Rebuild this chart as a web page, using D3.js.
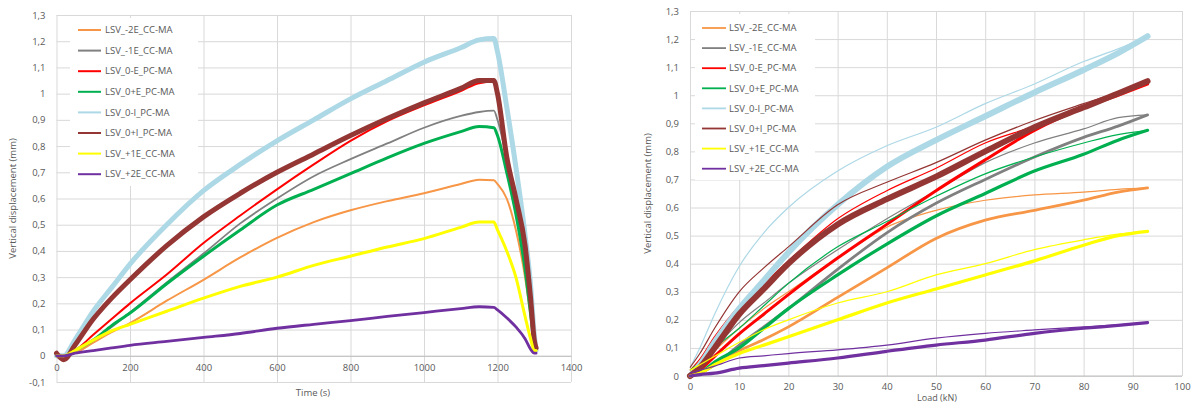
<!DOCTYPE html>
<html><head><meta charset="utf-8">
<script src="https://cdn.jsdelivr.net/npm/d3@7"></script>
<style>
body{margin:0;background:#fff}
svg text{font-family:"Open Sans",sans-serif;fill:#595959}
</style></head><body>
<svg id="c" width="1195" height="405"></svg>
<script>
// ---------- DATA ----------
const seriesNames = ["LSV_-2E_CC-MA","LSV_-1E_CC-MA","LSV_0-E_PC-MA","LSV_0+E_PC-MA","LSV_0-I_PC-MA","LSV_0+I_PC-MA","LSV_+1E_CC-MA","LSV_+2E_CC-MA"];
const seriesColors = ["#F79646","#808080","#FF0000","#00B050","#ADD8E6","#943634","#FFFF00","#7030A0"];

// Left chart: displacement vs time
const timeS = [0,20,50,100,150,200,300,400,500,600,700,800,900,1000,1100,1150,1190,1200,1225,1250,1275,1290,1300,1305];
const timeDisp_m2E = [0,0,0.01,0.05,0.09,0.125,0.21,0.29,0.375,0.45,0.51,0.555,0.59,0.62,0.655,0.672,0.67,0.655,0.60,0.48,0.30,0.15,0.04,0.02];
const timeDisp_m1E = [0,0,0.02,0.06,0.11,0.165,0.28,0.39,0.505,0.60,0.685,0.75,0.81,0.87,0.915,0.93,0.935,0.90,0.75,0.56,0.38,0.20,0.05,0.02];
const timeDisp_0mE = [0,0,0.02,0.08,0.14,0.20,0.31,0.43,0.535,0.635,0.73,0.82,0.895,0.955,1.01,1.04,1.045,0.99,0.74,0.58,0.40,0.20,0.05,0.02];
const timeDisp_0pE = [0,0,0.02,0.06,0.115,0.163,0.275,0.38,0.48,0.575,0.635,0.695,0.755,0.81,0.855,0.875,0.87,0.84,0.70,0.54,0.33,0.16,0.05,0.02];
const timeDisp_0mI = [0,0,0.06,0.17,0.26,0.35,0.50,0.63,0.73,0.82,0.90,0.98,1.05,1.12,1.175,1.205,1.21,1.16,0.95,0.72,0.46,0.27,0.08,0.02];
const timeDisp_0pI = [0.01,-0.015,0.04,0.14,0.22,0.29,0.42,0.53,0.62,0.70,0.77,0.84,0.905,0.965,1.02,1.05,1.05,1.0,0.76,0.60,0.42,0.22,0.06,0.03];
const timeDisp_p1E = [0,0,0.02,0.06,0.095,0.12,0.17,0.22,0.265,0.30,0.345,0.38,0.415,0.447,0.49,0.51,0.51,0.48,0.40,0.30,0.15,0.065,0.02,0.02];
const timeDisp_p2E = [0,0,0.01,0.02,0.03,0.04,0.055,0.07,0.085,0.105,0.12,0.134,0.15,0.165,0.18,0.187,0.185,0.175,0.145,0.11,0.065,0.025,0.01,0.01];

// Right chart: displacement vs load (loading = thick, unloading = thin)
const loadKN = [0,2,5,10,15,20,30,40,50,60,70,80,87,93];
const loadDisp_m2E = [0,0.01,0.04,0.09,0.13,0.175,0.28,0.385,0.49,0.555,0.59,0.626,0.655,0.67];
const loadDisp_m1E = [0,0.01,0.04,0.11,0.175,0.24,0.38,0.51,0.615,0.70,0.78,0.85,0.89,0.93];
const loadDisp_0mE = [0,0.02,0.07,0.15,0.22,0.29,0.42,0.54,0.66,0.77,0.875,0.955,1.0,1.04];
const loadDisp_0pE = [0,0.01,0.05,0.10,0.17,0.24,0.36,0.47,0.57,0.65,0.73,0.79,0.84,0.875];
const loadDisp_0mI = [0,0.04,0.12,0.24,0.34,0.44,0.61,0.745,0.84,0.925,1.01,1.09,1.15,1.21];
const loadDisp_0pI = [0,0.03,0.10,0.22,0.31,0.40,0.54,0.63,0.71,0.80,0.886,0.957,1.006,1.05];
const loadDisp_p1E = [0,0.01,0.04,0.08,0.11,0.14,0.20,0.26,0.31,0.36,0.41,0.466,0.50,0.515];
const loadDisp_p2E = [0,0.005,0.01,0.028,0.037,0.046,0.064,0.088,0.11,0.128,0.152,0.17,0.18,0.19];
const unloadDisp_m2E = [0.02,0.04,0.09,0.17,0.24,0.30,0.42,0.53,0.59,0.626,0.645,0.655,0.665,0.67];
const unloadDisp_m1E = [0.02,0.05,0.10,0.19,0.26,0.33,0.45,0.56,0.66,0.76,0.83,0.88,0.92,0.93];
const unloadDisp_0mE = [0.02,0.06,0.14,0.25,0.33,0.41,0.56,0.66,0.74,0.83,0.89,0.96,1.005,1.04];
const unloadDisp_0pE = [0.02,0.05,0.10,0.17,0.25,0.33,0.46,0.55,0.64,0.72,0.78,0.83,0.86,0.875];
const unloadDisp_0mI = [0.03,0.10,0.22,0.39,0.51,0.60,0.73,0.82,0.886,0.97,1.04,1.12,1.165,1.21];
const unloadDisp_0pI = [0.03,0.08,0.17,0.30,0.385,0.46,0.61,0.69,0.76,0.84,0.91,0.97,1.01,1.05];
const unloadDisp_p1E = [0.02,0.04,0.07,0.12,0.165,0.20,0.26,0.30,0.36,0.40,0.45,0.485,0.505,0.515];
const unloadDisp_p2E = [0.01,0.02,0.035,0.064,0.072,0.08,0.093,0.11,0.135,0.152,0.164,0.175,0.182,0.19];

const timeTicks = [0,200,400,600,800,1000,1200,1400];
const loadTicks = [0,10,20,30,40,50,60,70,80,90,100];
const dispTicksLeft = [-0.1,0,0.1,0.2,0.3,0.4,0.5,0.6,0.7,0.8,0.9,1,1.1,1.2,1.3];
const dispTicksRight = [0,0.1,0.2,0.3,0.4,0.5,0.6,0.7,0.8,0.9,1,1.1,1.2,1.3];

// ---------- DRAW ----------
const timeSeries = [timeDisp_m2E,timeDisp_m1E,timeDisp_0mE,timeDisp_0pE,timeDisp_0mI,timeDisp_0pI,timeDisp_p1E,timeDisp_p2E];
const loadSeries = [loadDisp_m2E,loadDisp_m1E,loadDisp_0mE,loadDisp_0pE,loadDisp_0mI,loadDisp_0pI,loadDisp_p1E,loadDisp_p2E];
const unloadSeries = [unloadDisp_m2E,unloadDisp_m1E,unloadDisp_0mE,unloadDisp_0pE,unloadDisp_0mI,unloadDisp_0pI,unloadDisp_p1E,unloadDisp_p2E];

const svg = d3.select("#c");
const fmt = d => Math.abs(d - Math.round(d)) < 1e-9 ? String(Math.round(d)) : d.toFixed(1).replace(".", ",");
const gridColor = "#d9d9d9";

function styleAxis(g){
  g.selectAll(".domain").remove();
  g.selectAll("line").attr("stroke", gridColor);
  g.selectAll("text").style("font-size","9.5px").attr("fill","#595959");
}

// ----- Left chart -----
const L = {x0:56.5, x1:571, y0:15, y1:382};
const xL = d3.scaleLinear().domain([0,1400]).range([L.x0,L.x1]);
const yL = d3.scaleLinear().domain([-0.1,1.3]).range([L.y1,L.y0]);

const gL = svg.append("g");
gL.append("g").attr("transform",`translate(${L.x0},0)`)
  .call(d3.axisLeft(yL).tickValues(dispTicksLeft).tickSize(-(L.x1-L.x0)).tickPadding(11).tickFormat(fmt))
  .call(styleAxis);
gL.append("g").attr("transform",`translate(0,${L.y1})`)
  .call(d3.axisBottom(xL).tickValues(timeTicks).tickSize(-(L.y1-L.y0)).tickFormat(""))
  .call(styleAxis);
gL.append("g").attr("transform",`translate(0,${yL(0)})`)
  .call(d3.axisBottom(xL).tickValues(timeTicks).tickSize(0).tickPadding(8).tickFormat(d=>d))
  .call(g=>{g.select(".domain").attr("stroke","#bfbfbf"); g.selectAll("text").style("font-size","9.5px").attr("fill","#595959");});

gL.append("rect").attr("x",70).attr("y",18).attr("width",128).attr("height",168).attr("fill","#fff");

const lineT = d3.line().x((d,i)=>xL(timeS[i])).y(d=>yL(d)).curve(d3.curveMonotoneX);
const wL = [2,1.8,2,3,5,5,3,2.8];
timeSeries.forEach((s,i)=>{
  gL.append("path").attr("d",lineT(s)).attr("fill","none").attr("stroke",seriesColors[i])
    .attr("stroke-width",wL[i]).attr("stroke-linejoin","round").attr("stroke-linecap","round");
});

seriesNames.forEach((n,i)=>{
  const y = 30 + i*20.6;
  gL.append("line").attr("x1",78).attr("x2",101).attr("y1",y).attr("y2",y).attr("stroke",seriesColors[i]).attr("stroke-width",2);
  gL.append("text").attr("x",105).attr("y",y).attr("dy","0.34em").style("font-size","9.5px").text(n);
});

gL.append("text").attr("x",313).attr("y",396).attr("text-anchor","middle").style("font-size","9.5px").text("Time (s)");
gL.append("text").attr("transform",`translate(16,${(L.y0+L.y1)/2}) rotate(-90)`).attr("text-anchor","middle").style("font-size","9.5px").text("Vertical displacement (mm)");

// ----- Right chart -----
const R = {x0:690, x1:1182, y0:11, y1:376};
const xR = d3.scaleLinear().domain([0,100]).range([R.x0,R.x1]);
const yR = d3.scaleLinear().domain([0,1.3]).range([R.y1,R.y0]);

const gR = svg.append("g");
gR.append("g").attr("transform",`translate(${R.x0},0)`)
  .call(d3.axisLeft(yR).tickValues(dispTicksRight).tickSize(-(R.x1-R.x0)).tickPadding(11).tickFormat(fmt))
  .call(styleAxis);
gR.append("g").attr("transform",`translate(0,${R.y1})`)
  .call(d3.axisBottom(xR).tickValues(loadTicks).tickSize(-(R.y1-R.y0)).tickPadding(7).tickFormat(d=>d))
  .call(styleAxis);
gR.append("line").attr("x1",R.x0).attr("x2",R.x1).attr("y1",R.y1).attr("y2",R.y1).attr("stroke","#bfbfbf");

gR.append("rect").attr("x",695).attr("y",14).attr("width",120).attr("height",166).attr("fill","#fff");

const lineL = d3.line().x((d,i)=>xR(loadKN[i])).y(d=>yR(d)).curve(d3.curveMonotoneX);
const wThick = [2.8,2.8,3,3.2,6,6,3.2,3.2];
loadSeries.forEach((s,i)=>{
  gR.append("path").attr("d",lineL(s)).attr("fill","none").attr("stroke",seriesColors[i])
    .attr("stroke-width",wThick[i]).attr("stroke-linejoin","round").attr("stroke-linecap","round");
  gR.append("path").attr("d",lineL(unloadSeries[i])).attr("fill","none").attr("stroke",seriesColors[i])
    .attr("stroke-width",1.2).attr("stroke-linejoin","round");
});

seriesNames.forEach((n,i)=>{
  const y = 28 + i*20.1;
  gR.append("line").attr("x1",702).attr("x2",726).attr("y1",y).attr("y2",y).attr("stroke",seriesColors[i]).attr("stroke-width",1.8);
  gR.append("text").attr("x",729).attr("y",y).attr("dy","0.34em").style("font-size","9.5px").text(n);
});

gR.append("text").attr("x",937).attr("y",401).attr("text-anchor","middle").style("font-size","9px").text("Load (kN)");
gR.append("text").attr("transform",`translate(651,${(R.y0+R.y1)/2}) rotate(-90)`).attr("text-anchor","middle").style("font-size","9.5px").text("Vertical displacement (mm)");
</script>
</body></html>
